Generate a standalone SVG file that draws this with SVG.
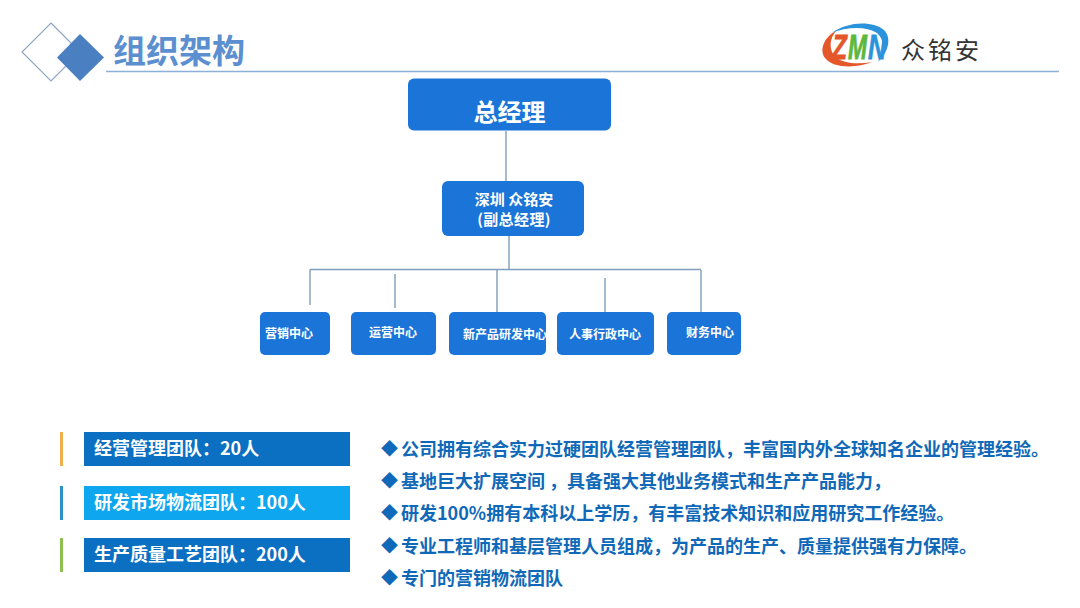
<svg xmlns="http://www.w3.org/2000/svg" width="1080" height="608" viewBox="0 0 1080 608">
<style>
text{font-family:"Noto Sans CJK SC","Liberation Sans",sans-serif;}
.n{fill:#1b74d8}
.w{fill:#fff;font-weight:700;text-anchor:middle}
.c{fill:none;stroke:#7f9dbd;stroke-width:1.4}
.t{fill:#fff;font-weight:700;font-size:18px}
.b{fill:#0b6fc2}
.d{fill:#0f69b8;font-weight:700;font-size:18px}
.m{fill:#0f69b8;font-size:17px}
.l{font-size:35px;font-weight:700;font-style:italic;font-family:"Liberation Sans",sans-serif;stroke-width:.8}
</style>
<rect width="1080" height="608" fill="#fff"/>
<g id="header">
<path d="M51 23L80 52L51 81L22 52Z" fill="#fff" stroke="#8fa6c6" stroke-width="1.2"/>
<path d="M80 34L104 57.500L80 81L57 57.500Z" fill="#4a7fc1"/>
<text x="113" y="63" font-size="33" font-weight="700" fill="#5b8fd0">组织架构</text>
<line x1="106" y1="71.500" x2="1059" y2="71.500" stroke="#8db0d6" stroke-width="1.300"/>
</g>
<g id="logo">
<path d="M832 33C846 22 872 20 884 30C891 37 890 50 878 62C884 50 885 40 877 33C866 26 846 27 832 33Z" fill="#2b93dc"/>
<path d="M836 31C824 37 819 50 825 58C833 69 858 68 872 62C856 65 838 63 833 54C829 47 830 38 836 31Z" fill="#e4572a"/>
<text class="l" x="832" y="59" textLength="15" lengthAdjust="spacingAndGlyphs" fill="#e4572a" stroke="#e4572a">Z</text>
<text class="l" x="848" y="59" textLength="19" lengthAdjust="spacingAndGlyphs" fill="#5cb83c" stroke="#5cb83c">M</text>
<text class="l" x="868" y="59" textLength="18" lengthAdjust="spacingAndGlyphs" fill="#2b93dc" stroke="#2b93dc">N</text>
<text x="901" y="59" font-size="24" letter-spacing="3" fill="#333">众铭安</text>
</g>
<g id="connectors">
<path class="c" d="M506 131V181M509 236V269.500M310 269.500H701M310 269.500V305M395 274V308M497 270V312M605 278V312M701 270V312"/>
</g>
<g id="n0"><rect class="n" x="408" y="78.500" width="203" height="52" rx="6"/><text class="w" x="509.500" y="121" font-size="24">总经理</text></g>
<g id="n1"><rect class="n" x="442" y="181" width="142" height="55" rx="6"/><text class="w" x="514" y="205" font-size="15">深圳 众铭安</text><text class="w" x="514" y="224.500" font-size="15" letter-spacing=".4">(副总经理)</text></g>
<g id="n2"><rect class="n" x="260" y="312" width="70" height="43" rx="5"/><text class="w" x="289" y="338" font-size="12">营销中心</text></g>
<g id="n3"><rect class="n" x="351" y="312" width="85" height="43" rx="5"/><text class="w" x="393" y="337" font-size="12">运营中心</text></g>
<g id="n4"><rect class="n" x="449" y="312" width="97" height="43" rx="5"/><text class="w" x="505" y="339" font-size="12">新产品研发中心</text></g>
<g id="n5"><rect class="n" x="557" y="312" width="97" height="43" rx="5"/><text class="w" x="605" y="339" font-size="12">人事行政中心</text></g>
<g id="n6"><rect class="n" x="667" y="312" width="74" height="43" rx="5"/><text class="w" x="710" y="337" font-size="12">财务中心</text></g>
<g id="teams">
<rect x="60" y="432" width="3" height="34" fill="#eeb04a"/>
<rect class="b" x="84" y="432" width="266" height="34"/>
<text class="t" x="94" y="455">经营管理团队：20人</text>
<rect x="60" y="486" width="3" height="34" fill="#2a93c4"/>
<rect x="84" y="486" width="266" height="34" fill="#0ea6ee"/>
<text class="t" x="94" y="509">研发市场物流团队：100人</text>
<rect x="60" y="538" width="3" height="34" fill="#8cc152"/>
<rect class="b" x="84" y="538" width="266" height="34"/>
<text class="t" x="94" y="561">生产质量工艺团队：200人</text>
</g>
<g id="bullets">
<text class="m" x="381" y="455">◆</text><text class="d" x="401" y="456">公司拥有综合实力过硬团队经营管理团队，丰富国内外全球知名企业的管理经验。</text>
<text class="m" x="381" y="487">◆</text><text class="d" x="401" y="488">基地巨大扩展空间 ，具备强大其他业务模式和生产产品能力，</text>
<text class="m" x="381" y="519">◆</text><text class="d" x="401" y="520">研发100%拥有本科以上学历，有丰富技术知识和应用研究工作经验。</text>
<text class="m" x="381" y="552">◆</text><text class="d" x="401" y="553">专业工程师和基层管理人员组成，为产品的生产、质量提供强有力保障。</text>
<text class="m" x="381" y="584">◆</text><text class="d" x="401" y="585">专门的营销物流团队</text>
</g>
</svg>
